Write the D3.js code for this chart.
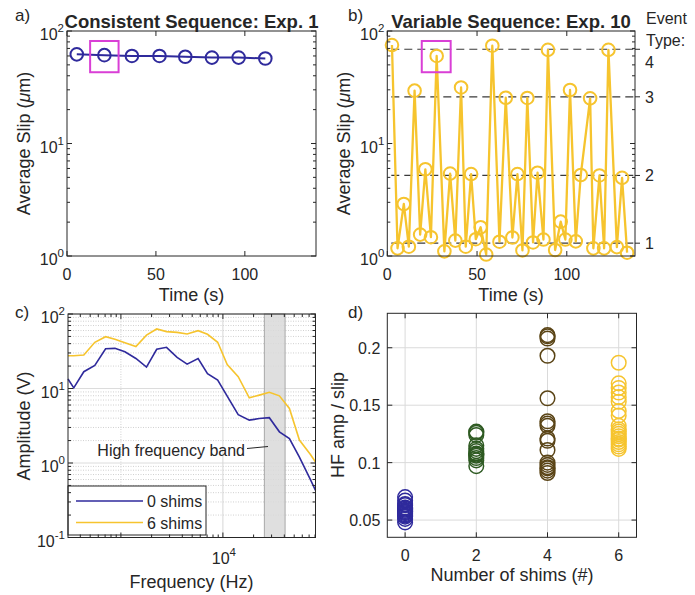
<!DOCTYPE html>
<html>
<head>
<meta charset="utf-8">
<script src="https://cdn.jsdelivr.net/npm/d3@7"></script>
<style>
body { margin: 0; background: #fff; }
text { font-family: "Liberation Sans", Arial, sans-serif; fill: #262626; }
</style>
</head>
<body>
<script>
var width = 695,
    height = 595;

// a) consistent sequence, exp. 1
var timeA = [5.5, 21, 36.5, 52, 66.5, 81.5, 96.5, 111.5];
var slipA = [62, 61, 60, 60, 59, 58, 58, 57];

// b) variable sequence, exp. 10
var timeB = [2.6, 5.7, 9.2, 12, 15.2, 18.3, 21.2, 24.3, 27.5, 31.8, 35, 37.9, 41.1, 43.7, 46.7, 49.3,
             52, 55.1, 58.5, 62.5, 66, 69.7, 72.5, 75.3, 78, 81.2, 83.7, 87, 89.5, 93.5, 96.6, 99.2,
             101.8, 105, 107.8, 113, 114.8, 118.2, 120.8, 123.2, 127.9, 130.8, 133.6];
var slipB = [75, 1.17, 2.9, 1.21, 29.5, 1.55, 5.9, 1.47, 60, 1.1, 5.4, 1.37, 31.5, 1.21, 5.35, 1.41,
             1.8, 1.03, 74, 1.34, 25.5, 1.46, 5.35, 1.12, 25.4, 1.32, 5.5, 1.4, 68, 1.13, 2.02, 1.4,
             29.9, 1.35, 5.25, 25.2, 1.17, 5.2, 1.17, 68, 1.2, 4.95, 1.07];
var eventLevels = [1.3, 5.2, 26, 68.8];
var eventLabels = ["1", "2", "3", "4"];

// highlighted event (magenta boxes)
var boxTimeA = [13, 29];
var boxTimeB = [19.2, 35.3];
var boxSlip = [43, 81.5];

// c) spectra
var freq = [303, 345, 433, 555, 708, 874, 1095, 1403, 1782, 2244, 2801, 3556, 4458, 5714, 7063,
            8890, 11020, 14130, 18140, 22760, 28520, 35800, 44880, 56240, 72140, 80870];
var amp0 = [13.4, 10.2, 16.8, 20.4, 34.2, 34.6, 31.1, 25.3, 19.4, 33.6, 35.7, 26.2, 21.2, 25.3, 15.8,
            13, 7.9, 4.45, 3.76, 3.95, 4.06, 2.62, 2.13, 1.2, 0.6, 0.43];
var amp6 = [27.5, 27.5, 28.1, 41.7, 49.6, 45.7, 41, 36.5, 52, 63, 58, 56.7, 54, 59.7, 53.4,
            41.7, 21, 14.4, 7.5, 8.15, 8.9, 7.97, 5.4, 2.03, 1.3, 1.03];
var hfBand = [25500, 40700];
var legendNames = ["0 shims", "6 shims"];

// d) HF amp / slip by shim count
var shims = [0, 2, 4, 6];
var ratio0 = [0.070, 0.067, 0.064, 0.063, 0.061, 0.060, 0.059, 0.058, 0.057, 0.057, 0.056, 0.055, 0.054, 0.053, 0.051, 0.048];
var ratio2 = [0.127, 0.126, 0.124, 0.115, 0.112, 0.110, 0.108, 0.107, 0.106, 0.104, 0.102, 0.097];
var ratio4 = [0.211, 0.210, 0.208, 0.193, 0.156, 0.136, 0.134, 0.132, 0.121, 0.119, 0.111, 0.100, 0.098, 0.096, 0.095, 0.093, 0.091];
var ratio6 = [0.187, 0.169, 0.165, 0.161, 0.157, 0.153, 0.145, 0.141, 0.132, 0.129, 0.127, 0.125, 0.123, 0.121, 0.120, 0.118, 0.116, 0.114, 0.112];

var blue = "#2f2a9c",
    green = "#2e5a22",
    brown = "#5a4416",
    yellow = "#f6c42e",
    magenta = "#d93fd6",
    axisCol = "#262626";

var svg = d3.select("body").append("svg")
    .attr("width", width)
    .attr("height", height);

function frame(x, y) {
  svg.append("rect")
    .attr("x", x.range()[0])
    .attr("y", y.range()[1])
    .attr("width", x.range()[1] - x.range()[0])
    .attr("height", y.range()[0] - y.range()[1])
    .attr("fill", "none")
    .attr("stroke", axisCol)
    .attr("stroke-width", 1);
}

function tick(x1, y1, x2, y2) {
  svg.append("line")
    .attr("x1", x1).attr("y1", y1).attr("x2", x2).attr("y2", y2)
    .attr("stroke", axisCol).attr("stroke-width", 1);
}

function powLabel(x, y, exp, anchor) {
  var t = svg.append("text")
    .attr("x", x).attr("y", y)
    .attr("text-anchor", anchor)
    .attr("font-size", 16);
  t.append("tspan").text("10");
  t.append("tspan").attr("dy", -8).attr("font-size", 11.5).text(exp);
}

function logMajors(y) {
  var d = y.domain();
  return d3.range(Math.round(Math.log10(d[0])), Math.round(Math.log10(d[1])) + 1)
    .map(function(e) { return Math.pow(10, e); });
}

function logMinors(majors, max) {
  var out = [];
  majors.forEach(function(m) {
    for (var k = 2; k < 10; k++) if (m * k < max) out.push(m * k);
  });
  return out;
}

// log y ticks inside on both sides, labels on left
function logYAxis(x, y) {
  var x0 = x.range()[0], x1 = x.range()[1];
  var majors = logMajors(y);
  logMinors(majors, y.domain()[1]).forEach(function(v) {
    tick(x0, y(v), x0 + 3, y(v));
    tick(x1, y(v), x1 - 3, y(v));
  });
  majors.forEach(function(v) {
    tick(x0, y(v), x0 + 5, y(v));
    tick(x1, y(v), x1 - 5, y(v));
    powLabel(x0 - 3, y(v) + 9, String(Math.round(Math.log10(v))), "end");
  });
}

function linXAxis(x, y, values) {
  var y0 = y.range()[0], y1 = y.range()[1];
  values.forEach(function(v) {
    tick(x(v), y0, x(v), y0 - 5);
    tick(x(v), y1, x(v), y1 + 5);
    svg.append("text")
      .attr("x", x(v)).attr("y", y0 + 24)
      .attr("text-anchor", "middle")
      .attr("font-size", 16)
      .text(v);
  });
}

function yTitle(cx, cy, build) {
  var t = svg.append("text")
    .attr("transform", "translate(" + cx + "," + cy + ") rotate(-90)")
    .attr("text-anchor", "middle")
    .attr("font-size", 18);
  build(t);
}

function slipTitle(t) {
  t.append("tspan").text("Average Slip (");
  t.append("tspan").attr("font-style", "italic").text("\u03bc");
  t.append("tspan").text("m)");
}

function text(x, y, s, size, anchor, weight) {
  return svg.append("text")
    .attr("x", x).attr("y", y)
    .attr("font-size", size)
    .attr("text-anchor", anchor || "start")
    .attr("font-weight", weight || "normal")
    .text(s);
}

// ---------- a) ----------
var xa = d3.scaleLinear().domain([0, 140]).range([67, 316]);
var ya = d3.scaleLog().domain([1, 100]).range([256, 31]);

var lineA = d3.line()
  .x(function(d) { return xa(d[0]); })
  .y(function(d) { return ya(d[1]); });
var ptsA = d3.zip(timeA, slipA);

svg.append("path")
  .datum(ptsA)
  .attr("d", lineA)
  .attr("fill", "none")
  .attr("stroke", blue)
  .attr("stroke-width", 2);

svg.selectAll(".ptA")
  .data(ptsA)
  .enter()
  .append("circle")
  .attr("class", "ptA")
  .attr("cx", function(d) { return xa(d[0]); })
  .attr("cy", function(d) { return ya(d[1]); })
  .attr("r", 6.3)
  .attr("fill", "none")
  .attr("stroke", blue)
  .attr("stroke-width", 2);

svg.append("rect")
  .attr("x", xa(boxTimeA[0]))
  .attr("y", ya(boxSlip[1]))
  .attr("width", xa(boxTimeA[1]) - xa(boxTimeA[0]))
  .attr("height", ya(boxSlip[0]) - ya(boxSlip[1]))
  .attr("fill", "none")
  .attr("stroke", magenta)
  .attr("stroke-width", 2);

logYAxis(xa, ya);
linXAxis(xa, ya, [0, 50, 100]);
frame(xa, ya);
text(191.5, 28, "Consistent Sequence: Exp. 1", 18.5, "middle", "bold");
text(15, 21, "a)", 17);
text(191.5, 301, "Time (s)", 18, "middle");
yTitle(30, 143.5, slipTitle);

// ---------- b) ----------
var xb = d3.scaleLinear().domain([0, 138]).range([387.3, 635]);
var yb = d3.scaleLog().domain([1, 100]).range([256, 31]);

svg.selectAll(".evt")
  .data(eventLevels)
  .enter()
  .append("line")
  .attr("class", "evt")
  .attr("x1", xb.range()[0] + 4)
  .attr("x2", xb.range()[1])
  .attr("y1", function(d) { return yb(d); })
  .attr("y2", function(d) { return yb(d); })
  .attr("stroke", "#3a3a3a")
  .attr("stroke-width", 1.2)
  .attr("stroke-dasharray", "8,5");

var lineB = d3.line()
  .x(function(d) { return xb(d[0]); })
  .y(function(d) { return yb(d[1]); });
var ptsB = d3.zip(timeB, slipB);

svg.append("path")
  .datum(ptsB)
  .attr("d", lineB)
  .attr("fill", "none")
  .attr("stroke", yellow)
  .attr("stroke-width", 2.3)
  .attr("stroke-linejoin", "round");

svg.selectAll(".ptB")
  .data(ptsB)
  .enter()
  .append("circle")
  .attr("class", "ptB")
  .attr("cx", function(d) { return xb(d[0]); })
  .attr("cy", function(d) { return yb(d[1]); })
  .attr("r", 6.3)
  .attr("fill", "none")
  .attr("stroke", yellow)
  .attr("stroke-width", 2);

svg.append("rect")
  .attr("x", xb(boxTimeB[0]))
  .attr("y", yb(boxSlip[1]))
  .attr("width", xb(boxTimeB[1]) - xb(boxTimeB[0]))
  .attr("height", yb(boxSlip[0]) - yb(boxSlip[1]))
  .attr("fill", "none")
  .attr("stroke", magenta)
  .attr("stroke-width", 2);

logYAxis(xb, yb);
linXAxis(xb, yb, [0, 50, 100]);
frame(xb, yb);

eventLevels.forEach(function(v, i) {
  tick(xb.range()[1], yb(v), xb.range()[1] + 5, yb(v));
  // top label sits below its line, under the "Type:" caption
  var dy = i === eventLevels.length - 1 ? 19 : 6;
  text(xb.range()[1] + 10, yb(v) + dy, eventLabels[i], 16);
});
text(646, 24, "Event", 16);
text(646, 46, "Type:", 16);

text(511, 28, "Variable Sequence: Exp. 10", 18.5, "middle", "bold");
text(348, 21, "b)", 17);
text(511, 301, "Time (s)", 18, "middle");
yTitle(350, 143.5, slipTitle);

// ---------- c) ----------
var xc = d3.scaleLog().domain([303, 80870]).range([68, 315.5]);
var yc = d3.scaleLog().domain([0.1, 100]).range([537.5, 314]);

var cMajors = logMajors(yc);
svg.selectAll(".gridMinorC")
  .data(logMinors(cMajors, 100))
  .enter()
  .append("line")
  .attr("x1", xc.range()[0]).attr("x2", xc.range()[1])
  .attr("y1", function(d) { return yc(d); })
  .attr("y2", function(d) { return yc(d); })
  .attr("stroke", "#c4c4c4")
  .attr("stroke-width", 0.8)
  .attr("stroke-dasharray", "1,1.5");
svg.selectAll(".gridMajorC")
  .data(cMajors)
  .enter()
  .append("line")
  .attr("x1", xc.range()[0]).attr("x2", xc.range()[1])
  .attr("y1", function(d) { return yc(d); })
  .attr("y2", function(d) { return yc(d); })
  .attr("stroke", "#dcdcdc")
  .attr("stroke-width", 1);
[1000, 10000].forEach(function(f, i) {
  svg.append("line")
    .attr("x1", xc(f)).attr("x2", xc(f))
    .attr("y1", yc.range()[0]).attr("y2", yc.range()[1])
    .attr("stroke", i ? "#d6d6d6" : "#cfcfcf")
    .attr("stroke-width", 1)
    .attr("stroke-dasharray", i ? null : "1,1.5");
});

svg.append("rect")
  .attr("x", xc(hfBand[0]))
  .attr("y", yc.range()[1])
  .attr("width", xc(hfBand[1]) - xc(hfBand[0]))
  .attr("height", yc.range()[0] - yc.range()[1])
  .attr("fill", "#d9d9d9")
  .attr("fill-opacity", 0.85)
  .attr("stroke", "#a8a8a8")
  .attr("stroke-width", 1);

var lineC = d3.line()
  .x(function(d) { return xc(d[0]); })
  .y(function(d) { return yc(d[1]); });

svg.append("path")
  .datum(d3.zip(freq, amp6))
  .attr("d", lineC)
  .attr("fill", "none")
  .attr("stroke", yellow)
  .attr("stroke-width", 1.6);
svg.append("path")
  .datum(d3.zip(freq, amp0))
  .attr("d", lineC)
  .attr("fill", "none")
  .attr("stroke", blue)
  .attr("stroke-width", 1.6);

text(245, 456, "High frequency band", 16, "end");
svg.append("line")
  .attr("x1", 247).attr("y1", 448.5)
  .attr("x2", 268).attr("y2", 446.5)
  .attr("stroke", axisCol).attr("stroke-width", 1);

// legend
svg.append("rect")
  .attr("x", 68).attr("y", 486)
  .attr("width", 138).attr("height", 49)
  .attr("fill", "#fff")
  .attr("stroke", axisCol)
  .attr("stroke-width", 1);
[blue, yellow].forEach(function(c, i) {
  var ly = 501 + i * 21.5;
  svg.append("line")
    .attr("x1", 76).attr("x2", 143)
    .attr("y1", ly).attr("y2", ly)
    .attr("stroke", c).attr("stroke-width", 1.6);
  text(147, ly + 6, legendNames[i], 16);
});

logYAxis(xc, yc);
[1000, 10000].forEach(function(f) {
  tick(xc(f), yc.range()[0], xc(f), yc.range()[0] - 5);
  tick(xc(f), yc.range()[1], xc(f), yc.range()[1] + 5);
});
logMinors([100, 1000, 10000], 80870).filter(function(f) { return f > 303; }).forEach(function(f) {
  tick(xc(f), yc.range()[0], xc(f), yc.range()[0] - 3);
  tick(xc(f), yc.range()[1], xc(f), yc.range()[1] + 3);
});
powLabel(xc(10000) + 1, 563.5, "4", "middle");
frame(xc, yc);
text(15, 318, "c)", 17);
text(191.5, 588, "Frequency (Hz)", 18, "middle");
yTitle(30, 426, function(t) { t.text("Amplitude (V)"); });

// ---------- d) ----------
var xd = d3.scaleLinear().domain([-0.5, 6.5]).range([387.3, 636.5]);
var yd = d3.scaleLinear().domain([0.035, 0.23]).range([537.3, 313.3]);
var yTicksD = [0.05, 0.1, 0.15, 0.2];

svg.selectAll(".gridXD")
  .data(shims)
  .enter()
  .append("line")
  .attr("x1", function(d) { return xd(d); })
  .attr("x2", function(d) { return xd(d); })
  .attr("y1", yd.range()[0]).attr("y2", yd.range()[1])
  .attr("stroke", "#dadada").attr("stroke-width", 1);
svg.selectAll(".gridYD")
  .data(yTicksD)
  .enter()
  .append("line")
  .attr("x1", xd.range()[0]).attr("x2", xd.range()[1])
  .attr("y1", function(d) { return yd(d); })
  .attr("y2", function(d) { return yd(d); })
  .attr("stroke", "#dadada").attr("stroke-width", 1);

var groups = [ratio0, ratio2, ratio4, ratio6];
var groupColors = [blue, green, brown, yellow];
groups.forEach(function(vals, gi) {
  svg.selectAll(".ptD" + gi)
    .data(vals)
    .enter()
    .append("circle")
    .attr("cx", xd(shims[gi]))
    .attr("cy", function(d) { return yd(d); })
    .attr("r", 7.3)
    .attr("fill", "none")
    .attr("stroke", groupColors[gi])
    .attr("stroke-width", 1.5);
});

shims.forEach(function(v) {
  tick(xd(v), yd.range()[0], xd(v), yd.range()[0] - 5);
  tick(xd(v), yd.range()[1], xd(v), yd.range()[1] + 5);
  text(xd(v), yd.range()[0] + 24, v, 16, "middle");
});
yTicksD.forEach(function(v) {
  tick(xd.range()[0], yd(v), xd.range()[0] + 5, yd(v));
  tick(xd.range()[1], yd(v), xd.range()[1] - 5, yd(v));
  text(xd.range()[0] - 7, yd(v) + 6, d3.format("")(v), 16, "end");
});
frame(xd, yd);
text(348, 318, "d)", 17);
text(512, 581, "Number of shims (#)", 18, "middle");
yTitle(344, 425, function(t) { t.text("HF amp / slip"); });
</script>
</body>
</html>
